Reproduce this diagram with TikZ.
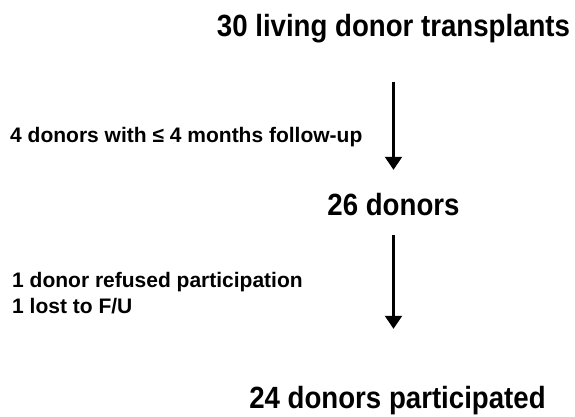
\documentclass[tikz,border=0pt]{standalone}
\usepackage{fontspec}
\setmainfont{Liberation Sans}
\newfontfamily\stagefont[FakeStretch=0.9]{Liberation Sans}
\usetikzlibrary{positioning, arrows.meta}

\begin{document}
\begin{tikzpicture}[
  x=1pt, y=1pt,
  stage/.style={inner sep=0pt, text height=22pt, text depth=6pt, anchor=base,
                font=\stagefont\bfseries\fontsize{30.7}{34}\selectfont},
  note/.style={inner sep=0pt, anchor=base west, align=left,
               font=\bfseries\fontsize{21}{26}\selectfont},
  arr/.style={-{Triangle[width=17pt, length=13pt]}, line width=2.2pt, color=black},
]
\useasboundingbox (0,0) rectangle (575,416);

% Nodes
\node[stage] (s1) at (393.5, 379) {30 living donor transplants};
\node[stage] (s2) at (393.5, 201) {26 donors};
\node[stage] (s3) at (397.5, 8) {24 donors participated};

\node[note] (n1) at (10, 274) {4 donors with ≤ 4 months follow-up};
\node[note] (n2) at (12, 103) {1 donor refused participation\\1 lost to F/U};

% Arrows
\draw[arr, shorten <=39pt, shorten >=23pt] (s1.south) -- (s2.north);
\draw[arr, shorten <=14pt, shorten >=57pt] (s2.south) -- (s2.south |- s3.north);

\end{tikzpicture}
\end{document}
